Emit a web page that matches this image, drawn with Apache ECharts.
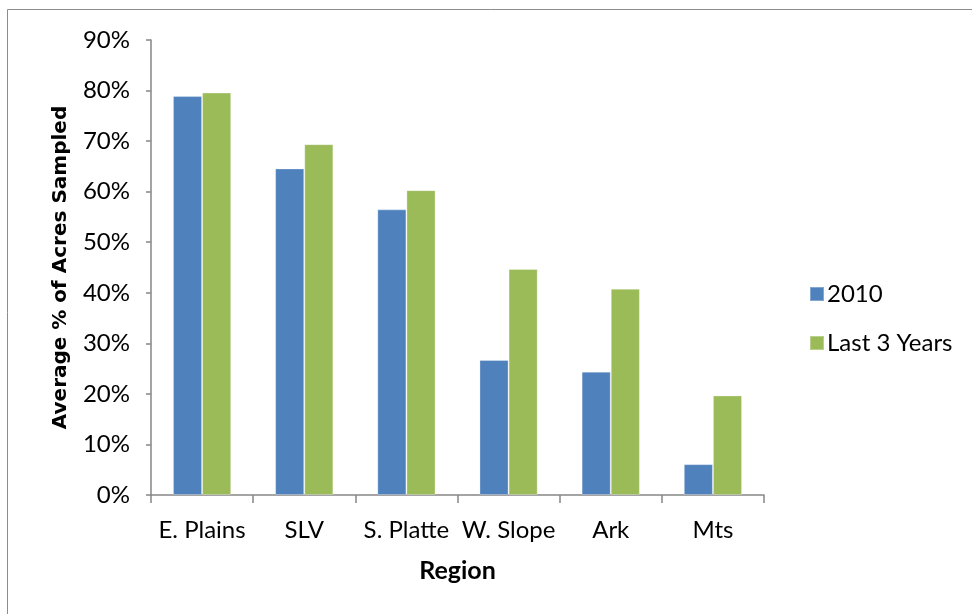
<!DOCTYPE html>
<html>
<head>
<meta charset="utf-8">
<script src="https://cdn.jsdelivr.net/npm/echarts@6/dist/echarts.min.js"></script>
<style>
  html, body { margin: 0; padding: 0; background: #fff; }
  #chart { width: 972px; height: 614px; }
</style>
</head>
<body>
<div id="chart"></div>
<script>
// Regions along the x axis
const regions = ['E. Plains', 'SLV', 'S. Platte', 'W. Slope', 'Ark', 'Mts'];
// Average % of acres sampled, per region
const values2010 = [78.9, 64.6, 56.5, 26.7, 24.4, 6.1];
const valuesLast3 = [79.6, 69.4, 60.3, 44.7, 40.8, 19.7];
const seriesNames = ['2010', 'Last 3 Years'];

const axisGray = '#868686';
const font = 'Lato, "Open Sans", sans-serif';

const chart = echarts.init(document.getElementById('chart'), null, { renderer: 'canvas' });

chart.setOption({
  animation: false,
  backgroundColor: '#fff',
  graphic: [{
    type: 'rect',
    shape: { x: 7.5, y: 9.5, width: 1000, height: 700 },
    style: { fill: 'none', stroke: '#8c8c8c', lineWidth: 1 },
    silent: true
  }],
  grid: { left: 151, right: 208, top: 40, bottom: 119, containLabel: false },
  legend: {
    orient: 'vertical',
    left: 804,
    top: 277,
    itemWidth: 14,
    itemHeight: 14,
    itemGap: 25,
    icon: 'rect',
    textStyle: { fontFamily: font, fontSize: 24, color: '#000', padding: [0, 0, 0, -2] },
    data: seriesNames
  },
  xAxis: {
    type: 'category',
    data: regions,
    boundaryGap: true,
    name: 'Region',
    nameLocation: 'middle',
    nameGap: 63,
    nameTextStyle: { fontFamily: font, fontSize: 25, fontWeight: 'bold', color: '#000' },
    axisLine: { lineStyle: { color: axisGray, width: 1.5 } },
    axisTick: { show: true, length: 8, alignWithLabel: false, lineStyle: { color: axisGray, width: 1.5 } },
    axisLabel: { fontFamily: font, fontSize: 24, color: '#000', margin: 23, interval: 0 }
  },
  yAxis: {
    type: 'value',
    min: 0,
    max: 90,
    interval: 10,
    name: 'Average % of Acres Sampled',
    nameLocation: 'middle',
    nameGap: 80,
    nameRotate: 90,
    nameTextStyle: { fontFamily: '"DejaVu Sans", sans-serif', fontSize: 20, fontWeight: 'bold', color: '#000' },
    axisLine: { show: true, lineStyle: { color: axisGray, width: 1.5 } },
    axisTick: { show: true, length: 5, lineStyle: { color: axisGray, width: 1.5 } },
    splitLine: { show: false },
    axisLabel: { fontFamily: font, fontSize: 24, color: '#000', margin: 21, formatter: '{value}%' }
  },
  series: [
    {
      name: seriesNames[0],
      type: 'bar',
      data: values2010,
      barGap: '0%',
      barCategoryGap: '43%',
      itemStyle: { color: '#4F81BD', borderColor: 'rgba(255,255,255,0.3)', borderWidth: 1 }
    },
    {
      name: seriesNames[1],
      type: 'bar',
      data: valuesLast3,
      barGap: '0%',
      barCategoryGap: '43%',
      itemStyle: { color: '#9BBB59', borderColor: 'rgba(255,255,255,0.3)', borderWidth: 1 }
    }
  ]
});
</script>
</body>
</html>
